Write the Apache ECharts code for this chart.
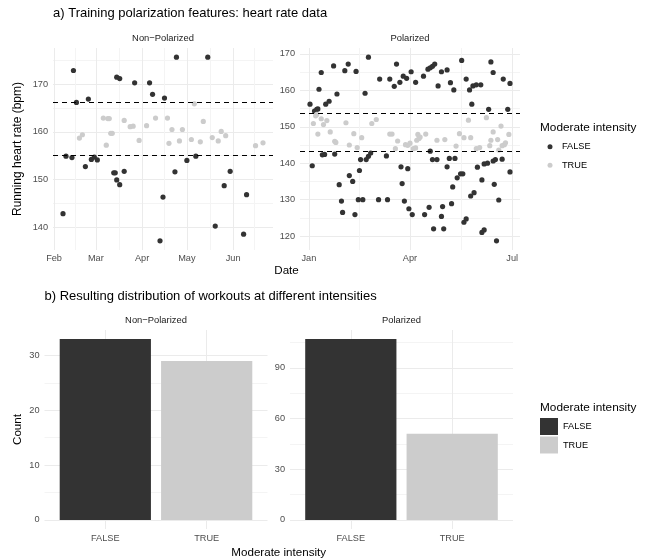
<!DOCTYPE html>
<html>
<head>
<meta charset="utf-8">
<script src="https://cdn.jsdelivr.net/npm/echarts@6/dist/echarts.min.js"></script>
<style>
  html, body { margin: 0; padding: 0; background: #ffffff; }
  #chart { width: 652px; height: 558px; }
</style>
</head>
<body>
<div id="chart"></div>
<script>
// Running sessions, Non-Polarized block: [date, running heart rate (bpm)]
const nonPolFalse = [
  ['2019-02-07', 142.8], ['2019-02-09', 154.9], ['2019-02-14', 172.9], ['2019-02-13', 154.6],
  ['2019-02-16', 166.2], ['2019-02-22', 152.7], ['2019-02-24', 166.9], ['2019-02-26', 154.2],
  ['2019-02-28', 154.7], ['2019-03-02', 154.1], ['2019-03-13', 151.4], ['2019-03-14', 151.4],
  ['2019-03-15', 149.9], ['2019-03-17', 148.9], ['2019-03-15', 171.5], ['2019-03-17', 171.2],
  ['2019-03-20', 151.7], ['2019-03-27', 170.3], ['2019-04-06', 170.3], ['2019-04-08', 167.9],
  ['2019-04-16', 167.1], ['2019-04-15', 146.3], ['2019-04-13', 137.1], ['2019-04-23', 151.6],
  ['2019-04-24', 175.7], ['2019-05-01', 154.0], ['2019-05-07', 154.9], ['2019-05-15', 175.7],
  ['2019-05-20', 140.2], ['2019-05-26', 148.7], ['2019-05-30', 151.7], ['2019-06-08', 138.5],
  ['2019-06-10', 146.8]
];
const nonPolTrue = [
  ['2019-02-18', 158.7], ['2019-02-20', 159.4], ['2019-03-06', 162.9], ['2019-03-08', 157.2],
  ['2019-03-09', 162.8], ['2019-03-10', 162.8], ['2019-03-11', 159.7], ['2019-03-12', 159.7],
  ['2019-03-20', 162.4], ['2019-03-24', 161.1], ['2019-03-26', 161.2], ['2019-03-30', 158.2],
  ['2019-04-04', 161.3], ['2019-04-10', 162.9], ['2019-04-18', 162.9], ['2019-04-19', 157.6],
  ['2019-04-21', 160.5], ['2019-04-26', 158.1], ['2019-04-28', 160.5], ['2019-05-04', 158.4],
  ['2019-05-06', 165.9], ['2019-05-10', 157.9], ['2019-05-12', 162.2], ['2019-05-18', 158.8],
  ['2019-05-22', 158.1], ['2019-05-24', 160.1], ['2019-05-27', 159.2], ['2019-06-16', 157.1],
  ['2019-06-21', 157.7]
];

// Running sessions, Polarized block
const polFalse = [
  ['2019-01-02', 156.2], ['2019-01-06', 154.3], ['2019-01-08', 154.8], ['2019-01-09', 154.9],
  ['2019-01-10', 160.3], ['2019-01-12', 164.9], ['2019-01-16', 156.2], ['2019-01-19', 157.0],
  ['2019-01-23', 166.7], ['2019-01-26', 159.0], ['2019-02-02', 165.4], ['2019-02-05', 167.2],
  ['2019-02-12', 165.2], ['2019-02-20', 159.2], ['2019-02-23', 169.1], ['2019-03-05', 163.1],
  ['2019-03-14', 163.1], ['2019-03-18', 161.1], ['2019-03-20', 167.2], ['2019-03-23', 162.2],
  ['2019-03-26', 163.9], ['2019-03-29', 163.3], ['2019-04-02', 165.1], ['2019-04-06', 162.2],
  ['2019-04-13', 163.9], ['2019-04-17', 165.8], ['2019-04-19', 166.2], ['2019-04-21', 166.6],
  ['2019-04-23', 167.2], ['2019-04-26', 161.2], ['2019-04-29', 165.1], ['2019-05-04', 165.6],
  ['2019-05-07', 162.1], ['2019-05-10', 160.1], ['2019-05-17', 168.2], ['2019-05-21', 163.1],
  ['2019-05-24', 160.1], ['2019-05-26', 156.2], ['2019-05-27', 161.2], ['2019-05-30', 161.5],
  ['2019-06-03', 161.5], ['2019-06-10', 154.8], ['2019-06-12', 167.8], ['2019-06-14', 164.9],
  ['2019-06-23', 163.1], ['2019-06-27', 154.8], ['2019-06-29', 161.9],
  ['2019-01-04', 139.3], ['2019-01-13', 142.3], ['2019-01-15', 142.4], ['2019-01-24', 142.5],
  ['2019-01-28', 134.1], ['2019-01-30', 129.6], ['2019-01-31', 126.5], ['2019-02-06', 136.6],
  ['2019-02-09', 135.0], ['2019-02-11', 125.9], ['2019-02-14', 130.0], ['2019-02-15', 138.0],
  ['2019-02-16', 141.0], ['2019-02-18', 130.0], ['2019-02-21', 141.0], ['2019-02-23', 141.9],
  ['2019-02-25', 142.8], ['2019-03-04', 130.0], ['2019-03-11', 142.0], ['2019-03-12', 130.0],
  ['2019-03-24', 139.0], ['2019-03-25', 134.4], ['2019-03-27', 129.6], ['2019-03-30', 138.5],
  ['2019-03-31', 127.5], ['2019-04-03', 125.9], ['2019-04-14', 125.9], ['2019-04-18', 127.9],
  ['2019-04-19', 143.3], ['2019-04-22', 122.0], ['2019-04-21', 141.0], ['2019-04-25', 141.0],
  ['2019-04-29', 125.4], ['2019-05-01', 122.0], ['2019-04-30', 128.1], ['2019-05-04', 139.0],
  ['2019-05-06', 141.3], ['2019-05-11', 141.3], ['2019-05-08', 128.9], ['2019-05-09', 133.5],
  ['2019-05-13', 136.0], ['2019-05-16', 137.1], ['2019-05-18', 137.1], ['2019-05-19', 123.8],
  ['2019-05-21', 124.7], ['2019-05-25', 131.0], ['2019-05-28', 131.9], ['2019-05-31', 138.9],
  ['2019-06-04', 121.0], ['2019-06-06', 121.7], ['2019-06-04', 135.4], ['2019-06-06', 139.8],
  ['2019-06-09', 140.0], ['2019-06-14', 140.6], ['2019-06-15', 134.2], ['2019-06-16', 141.0],
  ['2019-06-17', 118.7], ['2019-06-19', 129.9], ['2019-06-22', 141.1], ['2019-06-29', 137.6]
];
const polTrue = [
  ['2019-01-05', 150.9], ['2019-01-07', 153.0], ['2019-01-08', 153.4], ['2019-01-09', 148.0],
  ['2019-01-12', 152.2], ['2019-01-14', 150.6], ['2019-01-17', 151.7], ['2019-01-20', 148.6],
  ['2019-01-24', 146.0], ['2019-01-25', 145.7], ['2019-02-03', 151.1], ['2019-02-06', 145.0],
  ['2019-02-10', 148.1], ['2019-02-13', 144.3], ['2019-02-17', 147.0], ['2019-02-26', 150.9],
  ['2019-03-02', 152.0], ['2019-03-14', 148.0], ['2019-03-16', 148.0], ['2019-03-19', 144.0],
  ['2019-03-21', 146.1], ['2019-03-28', 145.1], ['2019-03-30', 144.9], ['2019-04-01', 145.5],
  ['2019-04-04', 144.0], ['2019-04-06', 144.2], ['2019-04-07', 146.3], ['2019-04-08', 147.9],
  ['2019-04-09', 146.8], ['2019-04-10', 147.2], ['2019-04-15', 148.0], ['2019-04-25', 146.3],
  ['2019-05-02', 146.5], ['2019-05-12', 144.7], ['2019-05-15', 148.1], ['2019-05-19', 147.0],
  ['2019-05-23', 151.8], ['2019-05-25', 147.0], ['2019-05-30', 144.0], ['2019-06-02', 144.3],
  ['2019-06-08', 152.5], ['2019-06-11', 144.8], ['2019-06-12', 146.3], ['2019-06-14', 148.6],
  ['2019-06-18', 146.5], ['2019-06-19', 143.6], ['2019-06-21', 150.2], ['2019-06-22', 144.8],
  ['2019-06-24', 145.1], ['2019-06-25', 145.6], ['2019-06-28', 147.9]
];

// Moderate-intensity band limits (bpm)
const nonPolCutoffs = [155.05, 166.2];
const polCutoffs = [143.4, 153.65];

// Workout counts per intensity class
const intensityCategories = ['FALSE', 'TRUE'];
const nonPolCounts = [33, 29];
const polCounts = [107, 51];

// Axis breaks
const nonPolMonthBreaks = ['2019-02-01', '2019-03-01', '2019-04-01', '2019-05-01', '2019-06-01'];
const polMonthBreaks = ['2019-01-01', '2019-04-01', '2019-07-01'];
const nonPolHrBreaks = [140, 150, 160, 170];
const polHrBreaks = [120, 130, 140, 150, 160, 170];
const nonPolCountBreaks = [0, 10, 20, 30];
const polCountBreaks = [0, 30, 60, 90];
const monthNames = ['Jan', 'Feb', 'Mar', 'Apr', 'May', 'Jun', 'Jul', 'Aug', 'Sep', 'Oct', 'Nov', 'Dec'];

const FONT = 'Liberation Sans';
const COLOR_FALSE = '#333333';
const COLOR_TRUE = '#cccccc';
const MAJOR_GRID = '#ebebeb';
const MINOR_GRID = '#f4f4f4';
const TICK_TEXT = '#4d4d4d';

// Panel rectangles
const panels = [
  { left: 53,   top: 48,  width: 220, height: 202 },
  { left: 300,  top: 48,  width: 220, height: 202 },
  { left: 44.5, top: 330, width: 223, height: 199 },
  { left: 290,  top: 330, width: 223, height: 199 }
];

function toTime(s) {
  const p = s.split('-').map(Number);
  return new Date(p[0], p[1] - 1, p[2]).getTime();
}
function expandRange(lo, hi, mult) {
  const pad = (hi - lo) * mult;
  return [lo - pad, hi + pad];
}
// Minor breaks halfway between majors (extended one step beyond each end)
function minorBreaks(major, lo, hi) {
  const b = major.slice();
  const step = b[1] - b[0];
  if (lo < b[0]) b.unshift(b[0] - step);
  if (hi > b[b.length - 1]) b.push(b[b.length - 1] + step);
  const out = [];
  for (let i = 0; i < b.length - 1; i++) out.push((b[i] + b[i + 1]) / 2);
  return out.filter(v => v >= lo && v <= hi);
}
function gridLines(major, lo, hi, withMinor) {
  let all = major.filter(v => v >= lo && v <= hi).map(v => ({ v: v, major: true }));
  if (withMinor) all = all.concat(minorBreaks(major, lo, hi).map(v => ({ v: v, major: false })));
  all.sort((a, b) => a.v - b.v);
  return { values: all.map(t => t.v), colors: all.map(t => t.major ? MAJOR_GRID : MINOR_GRID) };
}

function valueAxis(gridIndex, breaks, range, withMinor) {
  const g = gridLines(breaks, range[0], range[1], withMinor);
  return {
    type: 'value', gridIndex: gridIndex, min: range[0], max: range[1],
    axisLine: { show: false },
    axisTick: { show: false, customValues: g.values },
    axisLabel: { customValues: breaks, color: TICK_TEXT, fontSize: 9.2, fontFamily: FONT, margin: 5 },
    splitLine: { show: true, lineStyle: { color: g.colors, width: 1 } }
  };
}
// Dates on a linear millisecond scale, labelled by month
function dateAxis(gridIndex, breaks, range) {
  const a = valueAxis(gridIndex, breaks.map(toTime), range, true);
  a.axisLabel.formatter = v => monthNames[new Date(v).getMonth()];
  a.axisLabel.margin = 4;
  return a;
}
function categoryAxis(gridIndex) {
  const pos = intensityCategories.map((c, i) => i + 1);
  const a = valueAxis(gridIndex, pos, [0.4, intensityCategories.length + 0.6], false);
  a.axisLabel.formatter = v => intensityCategories[Math.round(v) - 1];
  return a;
}

const asPoints = arr => arr.map(p => [toTime(p[0]), p[1]]);
const npAll = nonPolFalse.concat(nonPolTrue);
const polAll = polFalse.concat(polTrue);
const npXRange = expandRange(Math.min(...npAll.map(p => toTime(p[0]))), Math.max(...npAll.map(p => toTime(p[0]))), 0.05);
const polXRange = expandRange(Math.min(...polAll.map(p => toTime(p[0]))), Math.max(...polAll.map(p => toTime(p[0]))), 0.05);
const npYRange = expandRange(Math.min(...npAll.map(p => p[1])), Math.max(...npAll.map(p => p[1])), 0.05);
const polYRange = expandRange(Math.min(...polAll.map(p => p[1])), Math.max(...polAll.map(p => p[1])), 0.05);
const npCountRange = [-0.05 * Math.max(...nonPolCounts), 1.05 * Math.max(...nonPolCounts)];
const polCountRange = [-0.05 * Math.max(...polCounts), 1.05 * Math.max(...polCounts)];

function cutoffLines(values) {
  return {
    silent: true, symbol: ['none', 'none'], label: { show: false }, animation: false,
    lineStyle: { color: '#000000', type: [5, 4], width: 1.1 },
    emphasis: { disabled: true },
    data: values.map(v => ({ yAxis: v }))
  };
}
function scatter(name, idx, data, color, cutoffs) {
  const s = {
    name: name, type: 'scatter', xAxisIndex: idx, yAxisIndex: idx,
    data: asPoints(data), symbolSize: 5.2,
    itemStyle: { color: color, opacity: 1 },
    emphasis: { disabled: true }
  };
  if (cutoffs) s.markLine = cutoffLines(cutoffs);
  return s;
}
function bars(name, idx, catIndex, counts, color) {
  const w = panels[idx].width * 0.9 / (intensityCategories.length + 0.2);
  return {
    name: name, type: 'bar', xAxisIndex: idx, yAxisIndex: idx,
    data: [[catIndex + 1, counts[catIndex]]],
    barWidth: w, barGap: '-100%',
    itemStyle: { color: color },
    emphasis: { disabled: true }
  };
}

function text(x, y, str, size, opts) {
  opts = opts || {};
  return {
    type: 'text', x: x, y: y, rotation: opts.rotation || 0, silent: true,
    style: {
      text: str, fontSize: size, fontFamily: FONT, fill: opts.color || '#000000',
      align: opts.align || 'center', verticalAlign: 'middle'
    }
  };
}

const chart = echarts.init(document.getElementById('chart'), null, { renderer: 'canvas' });
chart.setOption({
  animation: false,
  backgroundColor: '#ffffff',
  textStyle: { fontFamily: FONT },
  grid: panels.map(p => ({ left: p.left, top: p.top, width: p.width, height: p.height, containLabel: false })),
  xAxis: [
    dateAxis(0, nonPolMonthBreaks, npXRange),
    dateAxis(1, polMonthBreaks, polXRange),
    categoryAxis(2),
    categoryAxis(3)
  ],
  yAxis: [
    valueAxis(0, nonPolHrBreaks, npYRange, true),
    valueAxis(1, polHrBreaks, polYRange, true),
    valueAxis(2, nonPolCountBreaks, npCountRange, true),
    valueAxis(3, polCountBreaks, polCountRange, true)
  ],
  legend: [
    {
      data: [{ name: 'FALSE', icon: 'circle' }, { name: 'TRUE', icon: 'circle' }],
      orient: 'vertical', left: 547.5, top: 141.7, padding: 0,
      itemWidth: 14, itemHeight: 5, itemGap: 8.6, selectedMode: false,
      textStyle: { fontSize: 9.2, fontFamily: FONT, color: '#000000', lineHeight: 10 }
    },
    {
      data: [{ name: 'FALSE', icon: 'rect' }, { name: 'TRUE', icon: 'rect' }],
      orient: 'vertical', left: 540, top: 418, padding: 0,
      itemWidth: 18, itemHeight: 17, itemGap: 1.5, selectedMode: false,
      textStyle: { fontSize: 9.2, fontFamily: FONT, color: '#000000', lineHeight: 10 }
    }
  ],
  series: [
    scatter('FALSE', 0, nonPolFalse, COLOR_FALSE, nonPolCutoffs),
    scatter('TRUE', 0, nonPolTrue, COLOR_TRUE),
    scatter('FALSE', 1, polFalse, COLOR_FALSE, polCutoffs),
    scatter('TRUE', 1, polTrue, COLOR_TRUE),
    bars('FALSE', 2, 0, nonPolCounts, COLOR_FALSE),
    bars('TRUE', 2, 1, nonPolCounts, COLOR_TRUE),
    bars('FALSE', 3, 0, polCounts, COLOR_FALSE),
    bars('TRUE', 3, 1, polCounts, COLOR_TRUE)
  ],
  graphic: [
    text(53, 13.5, 'a) Training polarization features: heart rate data', 13, { align: 'left' }),
    text(44.5, 296, 'b) Resulting distribution of workouts at different intensities', 13, { align: 'left' }),
    text(163, 38, 'Non\u2212Polarized', 9.4, { color: '#1a1a1a' }),
    text(410, 38, 'Polarized', 9.4, { color: '#1a1a1a' }),
    text(156, 320.5, 'Non\u2212Polarized', 9.4, { color: '#1a1a1a' }),
    text(401.5, 320.5, 'Polarized', 9.4, { color: '#1a1a1a' }),
    text(18, 149, 'Running heart rate (bpm)', 12, { rotation: Math.PI / 2 }),
    text(286.5, 271, 'Date', 11.6),
    text(18, 429.5, 'Count', 11.6, { rotation: Math.PI / 2 }),
    text(278.7, 552.5, 'Moderate intensity', 11.6),
    text(540, 127.5, 'Moderate intensity', 11.8, { align: 'left' }),
    text(540, 408, 'Moderate intensity', 11.8, { align: 'left' })
  ]
});
</script>
</body>
</html>
